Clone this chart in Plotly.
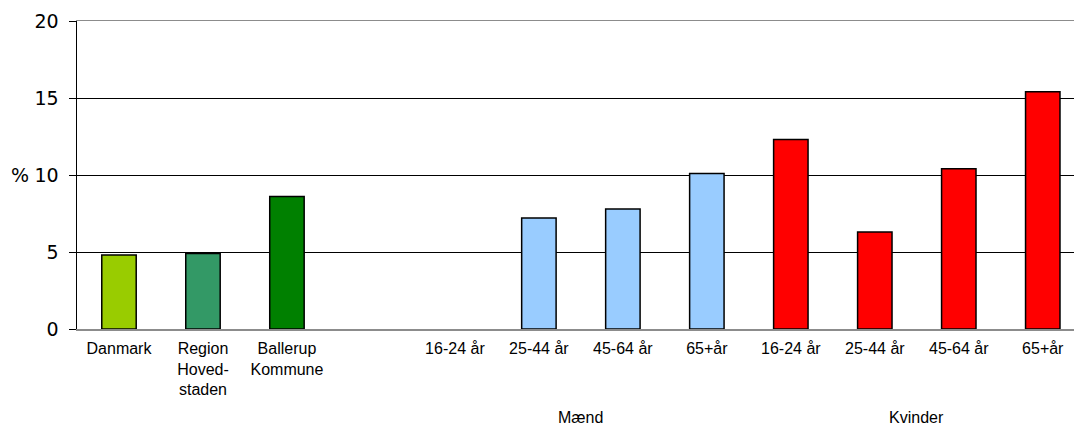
import plotly.graph_objects as go

categories = ["Danmark", "Region<br>Hoved-<br>staden", "Ballerup<br>Kommune", "",
              "16-24 år", "25-44 år", "45-64 år", "65+år",
              "16-24 år", "25-44 år", "45-64 år", "65+år"]
values = [4.8, 4.9, 8.6, None,
          None, 7.2, 7.8, 10.1,
          12.3, 6.3, 10.4, 15.4]
colors = ["#99CC00", "#339966", "#008000", "#FFFFFF",
          "#99CCFF", "#99CCFF", "#99CCFF", "#99CCFF",
          "#FF0000", "#FF0000", "#FF0000", "#FF0000"]
groups = [("Mænd", 4, 7), ("Kvinder", 8, 11)]
y_ticks = [0, 5, 10, 15, 20]

xs = list(range(len(categories)))

fig = go.Figure()
fig.add_trace(go.Bar(
    x=xs, y=values, width=0.41,
    marker=dict(color=colors, line=dict(color="#000000", width=1.5)),
    hoverinfo="skip", cliponaxis=False,
))

W, H = 1074, 427
L, T, B, R = 77, 21, 98, 0
plot_w = W - L - R
plot_h = H - T - B
slot = 83.98
x_end = -0.5 + plot_w / slot

fig.update_layout(
    width=W, height=H,
    margin=dict(l=L, r=R, t=T, b=B, autoexpand=False),
    paper_bgcolor="white", plot_bgcolor="white",
    showlegend=False,
    bargap=0.5,
)
fig.update_xaxes(
    range=[-0.5, x_end], automargin=False,
    tickmode="array", tickvals=xs, ticktext=categories,
    tickfont=dict(family="Liberation Sans, Arial", size=16, color="#000000"),
    ticks="", showgrid=False, zeroline=False,
    showline=True, linecolor="#8C8C8C", linewidth=1.5, mirror=True,
    ticklabelstandoff=4,
)
fig.update_yaxes(
    range=[0, 20], automargin=False, tickmode="array", tickvals=y_ticks,
    tickfont=dict(family="DejaVu Sans, Verdana", size=19, color="#000000"),
    ticks="outside", ticklen=7, tickcolor="#000000", tickwidth=1,
    showgrid=True, gridcolor="#000000", gridwidth=1,
    zeroline=False, showline=True, linecolor="#000000", linewidth=1.5,
    ticklabelstandoff=6,
)

for name, a, b in groups:
    fig.add_annotation(
        x=(xs[a] + xs[b]) / 2, xref="x",
        y=(H - B - 407) / plot_h, yref="paper",
        text=name, showarrow=False, xanchor="center", yanchor="top",
        font=dict(family="Liberation Sans, Arial", size=16, color="#000000"),
    )

fig.add_annotation(
    x=(20 - L) / plot_w, xref="paper", y=10, yref="y",
    text="%", showarrow=False, xanchor="center", yanchor="middle",
    font=dict(family="DejaVu Sans, Verdana", size=19, color="#000000"),
)

fig.write_html(
    "out.html",
    config={"displayModeBar": False, "staticPlot": True},
    post_script="document.body.style.margin='0';document.body.style.overflow='hidden';",
)
